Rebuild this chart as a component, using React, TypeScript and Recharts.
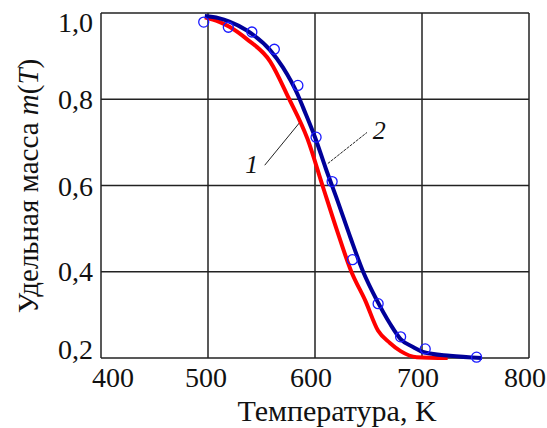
import React from 'react';
import {
    ComposedChart,
    Line,
    Scatter,
    XAxis,
    YAxis,
    CartesianGrid,
    ReferenceLine,
    ReferenceDot,
} from 'recharts';

// curve 1 (red) and curve 2 (blue), experimental points (open circles)
const redT = [497, 510, 520, 536, 558, 575, 593, 607, 620, 634, 647, 659, 670, 680, 695, 724];
const redM = [0.99, 0.98, 0.968, 0.94, 0.888, 0.805, 0.708, 0.6, 0.5, 0.4, 0.333, 0.263, 0.235, 0.216, 0.202, 0.2];

const blueT = [497, 510, 520, 536, 558, 570, 584, 589, 600, 610, 621, 633, 645, 658, 670, 680, 692, 701, 726, 756];
const blueM = [0.993, 0.988, 0.98, 0.96, 0.914, 0.874, 0.81, 0.78, 0.712, 0.64, 0.565, 0.48, 0.4, 0.333, 0.28, 0.244, 0.225, 0.214, 0.205, 0.2];

const pointT = [496, 519, 541, 562, 584, 601, 616, 635, 659, 680, 703, 751];
const pointM = [0.979, 0.967, 0.956, 0.916, 0.832, 0.712, 0.609, 0.428, 0.326, 0.249, 0.221, 0.202];

const xTicks = [400, 500, 600, 700, 800];
const yTicks = [0.2, 0.4, 0.6, 0.8, 1.0];

const redData = redT.map((t, i) => ({ t, m: redM[i] }));
const blueData = blueT.map((t, i) => ({ t, m: blueM[i] }));
const pointData = pointT.map((t, i) => ({ t, m: pointM[i] }));

const FONT = '"Liberation Serif", "Times New Roman", serif';
const FS = 28;

const xShift: Record<number, number> = { 400: 12, 500: -2, 600: -4, 700: -4, 800: -4 };
const yShift: Record<string, number> = { '1': 10, '0.8': 1, '0.6': 1, '0.4': 0, '0.2': -8 };

function XTick({ x, y, payload }: any) {
    return (
        <text x={x + (xShift[payload.value] ?? 0)} y={y + 21} textAnchor="middle" fontFamily={FONT} fontSize={FS} fill="#111">
            {payload.value}
        </text>
    );
}

function YTick({ x, y, payload }: any) {
    const s = yShift[String(payload.value)] ?? 0;
    return (
        <text x={x} y={y + s + 9} textAnchor="end" fontFamily={FONT} fontSize={FS} fill="#111">
            {payload.value.toFixed(1).replace('.', ',')}
        </text>
    );
}

function Ring({ cx, cy }: any) {
    return <circle cx={cx} cy={cy} r={5} fill="none" stroke="#1a1aff" strokeWidth={1.3} />;
}

export default function App() {
    return (
        <div style={{ position: 'absolute', left: 0, top: 0, width: 547, height: 428, background: '#fff' }}>
            <ComposedChart width={547} height={428} margin={{ top: 13, right: 18, bottom: 0, left: 0 }}>
                <CartesianGrid stroke="#222" strokeWidth={1.5} />
                <XAxis
                    type="number"
                    dataKey="t"
                    domain={[400, 800]}
                    ticks={xTicks}
                    height={70}
                    axisLine={false}
                    tickLine={false}
                    tick={<XTick />}
                    label={{
                        content: () => (
                            <text x={337} y={421} textAnchor="middle" fontFamily={FONT} fontSize={30} fill="#111">
                                Температура, K
                            </text>
                        ),
                    }}
                />
                <YAxis
                    type="number"
                    dataKey="m"
                    domain={[0.2, 1.0]}
                    ticks={yTicks}
                    width={101}
                    axisLine={false}
                    tickLine={false}
                    tick={<YTick />}
                    label={{
                        content: () => (
                            <text
                                x={38}
                                y={186}
                                transform="rotate(-90, 38, 186)"
                                textAnchor="middle"
                                fontFamily={FONT}
                                fontSize={29}
                                fill="#111"
                            >
                                Удельная масса <tspan fontStyle="italic">m</tspan>(<tspan fontStyle="italic">T</tspan>)
                            </text>
                        ),
                    }}
                />
                <ReferenceLine segment={[{ x: 553, y: 0.647 }, { x: 586, y: 0.747 }]} stroke="#222" strokeWidth={1} />
                <ReferenceLine
                    segment={[{ x: 612, y: 0.651 }, { x: 648.6, y: 0.723 }]}
                    stroke="#222"
                    strokeWidth={1}
                    strokeDasharray="3 1"
                />
                <Scatter data={pointData} dataKey="m" shape={<Ring />} isAnimationActive={false} />
                <Line data={redData} dataKey="m" type="monotone" stroke="#ff0000" strokeWidth={4} dot={false} isAnimationActive={false} />
                <Line data={blueData} dataKey="m" type="monotone" stroke="#000099" strokeWidth={4} dot={false} isAnimationActive={false} />
                <ReferenceDot
                    x={541}
                    y={0.65}
                    r={0}
                    label={{ value: '1', position: 'center', fontFamily: FONT, fontSize: 26, fontStyle: 'italic', fill: '#111' }}
                />
                <ReferenceDot
                    x={660}
                    y={0.73}
                    r={0}
                    label={{ value: '2', position: 'center', fontFamily: FONT, fontSize: 26, fontStyle: 'italic', fill: '#111' }}
                />
            </ComposedChart>
        </div>
    );
}
